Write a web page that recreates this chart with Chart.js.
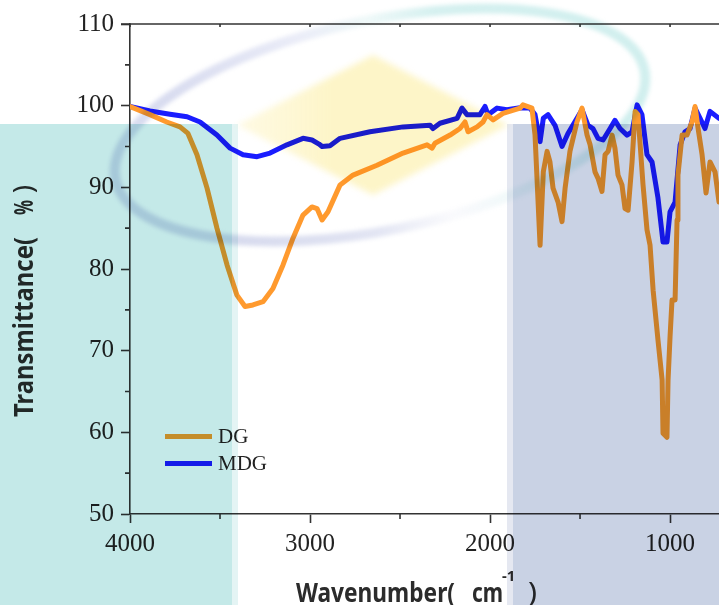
<!DOCTYPE html>
<html>
<head>
<meta charset="utf-8">
<script src="https://cdn.jsdelivr.net/npm/chart.js@4.4.1/dist/chart.umd.min.js"></script>
<style>
  html, body { margin: 0; padding: 0; background: #fff; }
  #wrap { width: 719px; height: 605px; }
</style>
</head>
<body>
<div id="wrap"><canvas id="ftir" width="719" height="605"></canvas></div>
<script>
// wavenumber (cm-1) and transmittance (%)
const dgWave = [4000, 3889, 3796, 3722, 3678, 3628, 3572, 3517, 3461, 3406, 3361, 3317, 3261, 3206, 3150, 3094, 3039, 2989, 2961, 2933, 2900, 2833, 2761, 2628, 2483, 2350, 2322, 2306, 2222, 2167, 2139, 2122, 2072, 2039, 2017, 1983, 1928, 1833, 1817, 1767, 1750, 1722, 1704, 1683, 1667, 1650, 1622, 1600, 1583, 1556, 1517, 1489, 1461, 1444, 1417, 1400, 1378, 1361, 1344, 1322, 1306, 1289, 1267, 1250, 1233, 1211, 1194, 1178, 1150, 1128, 1111, 1094, 1067, 1044, 1039, 1017, 1011, 1000, 989, 972, 961, 956, 933, 906, 878, 861, 844, 822, 800, 778, 750, 728];
const dgT = [99.9, 98.9, 98.0, 97.4, 96.6, 94.0, 89.9, 85.0, 80.5, 76.8, 75.4, 75.6, 76.0, 77.6, 80.5, 83.8, 86.6, 87.6, 87.4, 86.0, 87.0, 90.3, 91.5, 92.7, 94.2, 95.2, 94.8, 95.4, 96.4, 97.2, 98.0, 96.8, 97.4, 98.0, 98.9, 98.25, 99.05, 99.7, 100.1, 99.7, 96.4, 82.9, 91.9, 94.4, 93.1, 89.9, 88.2, 85.8, 89.9, 94.4, 98.0, 99.7, 96.4, 95.2, 91.9, 91.1, 89.5, 94.0, 94.4, 96.4, 94.8, 91.5, 90.3, 87.4, 87.2, 93.1, 99.3, 98.9, 90.3, 84.8, 82.9, 77.4, 71.3, 66.4, 59.9, 59.4, 66.4, 71.7, 76.2, 76.2, 86.0, 91.5, 96.4, 96.4, 98.0, 99.9, 97.2, 94.0, 89.3, 93.1, 91.9, 88.2];

const mdgWave = [4000, 3889, 3778, 3683, 3611, 3517, 3444, 3372, 3294, 3222, 3128, 3039, 2989, 2950, 2933, 2889, 2833, 2667, 2483, 2333, 2317, 2278, 2183, 2156, 2128, 2056, 2028, 2011, 1961, 1906, 1833, 1778, 1750, 1722, 1704, 1678, 1639, 1600, 1567, 1517, 1489, 1456, 1428, 1400, 1372, 1333, 1306, 1278, 1239, 1211, 1183, 1156, 1128, 1100, 1067, 1039, 1017, 1000, 972, 944, 917, 889, 861, 833, 806, 778, 728];
const mdgT = [99.9, 99.35, 98.95, 98.65, 98.0, 96.4, 94.8, 94.0, 93.75, 94.2, 95.2, 96.0, 95.8, 95.3, 95.0, 95.1, 96.0, 96.8, 97.4, 97.6, 97.2, 97.85, 98.45, 99.7, 98.9, 98.9, 99.9, 98.9, 99.7, 99.5, 99.75, 99.7, 98.9, 95.6, 98.45, 98.9, 97.6, 95.0, 96.6, 98.45, 99.5, 97.6, 97.2, 96.0, 95.8, 97.2, 98.2, 97.2, 96.4, 96.8, 100.1, 98.9, 94.0, 93.1, 88.7, 83.3, 83.3, 87.0, 88.2, 95.2, 96.8, 97.2, 99.7, 98.45, 97.2, 99.3, 98.45];

const seriesNames = ["DG", "MDG"];
const seriesColors = ["#ff9a2e", "#1a1dff"];
const xTicks = [4000, 3000, 2000, 1000];
const xMinor = [3500, 2500, 1500];
const yMinor = [55, 65, 75, 85, 95, 105];

const AXIS = "#333333";
const TEXT = "#222222";

function toPoints(xs, ys) {
    return xs.map((x, i) => ({ x: x, y: ys[i] }));
}

// draw text squeezed to a given width
function fitText(ctx, text, x, y, width) {
    let w = ctx.measureText(text).width;
    ctx.save();
    ctx.translate(x, y);
    ctx.scale(width / w, 1);
    ctx.fillText(text, 0, 0);
    ctx.restore();
}

const decor = {
    id: "decor",
    beforeDraw(chart) {
        const ctx = chart.ctx;
        ctx.save();
        ctx.fillStyle = "#fff";
        ctx.fillRect(0, 0, chart.width, chart.height);
        ctx.restore();
    },
    afterDatasetsDraw(chart) {
        const ctx = chart.ctx;
        const xs = chart.scales.x, ys = chart.scales.y;
        const a = chart.chartArea;
        ctx.save();
        ctx.strokeStyle = AXIS;
        ctx.lineWidth = 1.6;
        // top frame line
        ctx.beginPath();
        ctx.moveTo(a.left - 9, a.top);
        ctx.lineTo(a.right, a.top);
        ctx.stroke();
        ctx.beginPath();
        yMinor.forEach(v => {
            let py = ys.getPixelForValue(v);
            ctx.moveTo(a.left - 5, py);
            ctx.lineTo(a.left, py);
        });
        xMinor.forEach(v => {
            let px = xs.getPixelForValue(v);
            ctx.moveTo(px, a.bottom);
            ctx.lineTo(px, a.bottom + 5);
        });
        xMinor.concat(xTicks).forEach(v => {
            let px = xs.getPixelForValue(v);
            ctx.moveTo(px, a.top);
            ctx.lineTo(px, a.top + 3);
        });
        ctx.stroke();
        ctx.restore();
    },
    afterDraw(chart) {
        const ctx = chart.ctx;
        ctx.save();

        // legend
        ctx.lineWidth = 5;
        ctx.font = "21px 'Liberation Serif'";
        ctx.textBaseline = "middle";
        ctx.fillStyle = TEXT;
        [436.5, 463.5].forEach((ly, i) => {
            ctx.strokeStyle = seriesColors[i];
            ctx.beginPath();
            ctx.moveTo(165, ly);
            ctx.lineTo(212, ly);
            ctx.stroke();
            ctx.fillText(seriesNames[i], 218, ly + 1);
        });

        // axis titles
        ctx.textBaseline = "alphabetic";
        ctx.fillStyle = "#2b2b2b";
        ctx.font = "bold 27px 'Noto Sans'";
        ctx.save();
        ctx.translate(33, 417);
        ctx.rotate(-Math.PI / 2);
        fitText(ctx, "Transmittance(", 0, 0, 180);
        fitText(ctx, "%", 202, 0, 15);
        ctx.font = "27px 'Noto Sans'";
        fitText(ctx, ")", 224, 0, 8);
        ctx.restore();

        ctx.font = "bold 27px 'Noto Sans'";
        fitText(ctx, "Wavenumber(", 296, 602, 159);
        fitText(ctx, "cm", 472, 602, 31);
        ctx.font = "bold 15px 'Noto Sans'";
        ctx.fillText("-1", 502, 581);
        ctx.font = "27px 'Noto Sans'";
        fitText(ctx, ")", 528, 602, 9);

        // background decorations, blended over everything
        ctx.globalCompositeOperation = "multiply";
        ctx.fillStyle = "#c4e9e8";
        ctx.fillRect(0, 124, 232, 481);
        ctx.fillStyle = "#e4f4f4";
        ctx.fillRect(232, 124, 6, 481);
        ctx.fillStyle = "#e5e8f1";
        ctx.fillRect(507, 124, 6, 481);
        ctx.fillStyle = "#c9d2e4";
        ctx.fillRect(513, 124, 206, 481);

        ctx.filter = "blur(3px)";
        let g = ctx.createLinearGradient(237, 0, 508, 0);
        g.addColorStop(0, "rgba(254,248,215,0.7)");
        g.addColorStop(0.35, "rgba(253,245,200,1)");
        g.addColorStop(1, "rgba(253,245,200,1)");
        ctx.fillStyle = g;
        ctx.beginPath();
        ctx.moveTo(237, 125);
        ctx.lineTo(373, 55);
        ctx.lineTo(508, 125);
        ctx.lineTo(373, 195);
        ctx.closePath();
        ctx.fill();

        ctx.filter = "blur(2px)";
        let cg = ctx.createConicGradient(0, 380, 125);
        cg.addColorStop(0.0, "rgba(200,236,235,0.85)");
        cg.addColorStop(0.07, "rgba(210,240,239,0.35)");
        cg.addColorStop(0.14, "rgba(220,223,240,0.15)");
        cg.addColorStop(0.25, "rgba(212,216,237,0.65)");
        cg.addColorStop(0.4, "rgba(208,212,235,0.85)");
        cg.addColorStop(0.52, "rgba(210,214,237,0.85)");
        cg.addColorStop(0.63, "rgba(224,227,244,0.65)");
        cg.addColorStop(0.73, "rgba(230,245,245,0.65)");
        cg.addColorStop(0.82, "rgba(206,238,237,0.85)");
        cg.addColorStop(1.0, "rgba(200,236,235,0.85)");
        ctx.strokeStyle = cg;
        ctx.lineWidth = 10;
        ctx.beginPath();
        ctx.ellipse(380, 125, 270, 105, -0.204, 0, Math.PI * 2);
        ctx.stroke();

        ctx.restore();
    }
};

const ctx = document.getElementById("ftir");

new Chart(ctx, {
    type: "line",
    data: {
        datasets: [
            {
                label: seriesNames[0],
                data: toPoints(dgWave, dgT),
                borderColor: seriesColors[0],
                borderWidth: 5,
                pointRadius: 0,
                tension: 0,
                borderJoinStyle: "round",
                borderCapStyle: "round"
            },
            {
                label: seriesNames[1],
                data: toPoints(mdgWave, mdgT),
                borderColor: seriesColors[1],
                borderWidth: 5,
                pointRadius: 0,
                tension: 0,
                borderJoinStyle: "round",
                borderCapStyle: "round"
            }
        ]
    },
    options: {
        responsive: false,
        animation: false,
        devicePixelRatio: 1,
        layout: { padding: { top: 24, left: 0, right: 0, bottom: 0 } },
        plugins: {
            legend: { display: false },
            tooltip: { enabled: false }
        },
        scales: {
            x: {
                type: "linear",
                reverse: true,
                min: 728,
                max: 4000,
                afterFit: s => { s.height = 91; s.paddingLeft = 0; s.paddingRight = 0; },
                afterBuildTicks: s => { s.ticks = xTicks.map(v => ({ value: v })); },
                border: { display: true, color: AXIS, width: 1.6 },
                grid: { display: true, drawOnChartArea: false, drawTicks: true, tickLength: 9, tickColor: AXIS, tickWidth: 1.6 },
                ticks: {
                    autoSkip: false,
                    maxRotation: 0,
                    padding: 6,
                    color: TEXT,
                    font: { family: "'Liberation Serif'", size: 25 },
                    callback: v => String(v)
                }
            },
            y: {
                min: 50,
                max: 110,
                afterFit: s => { s.width = 130; },
                border: { display: true, color: AXIS, width: 1.6 },
                grid: { display: true, drawOnChartArea: false, drawTicks: true, tickLength: 9, tickColor: AXIS, tickWidth: 1.6 },
                ticks: {
                    stepSize: 10,
                    padding: 7,
                    color: TEXT,
                    font: { family: "'Liberation Serif'", size: 25 }
                }
            }
        }
    },
    plugins: [decor]
});
</script>
</body>
</html>
